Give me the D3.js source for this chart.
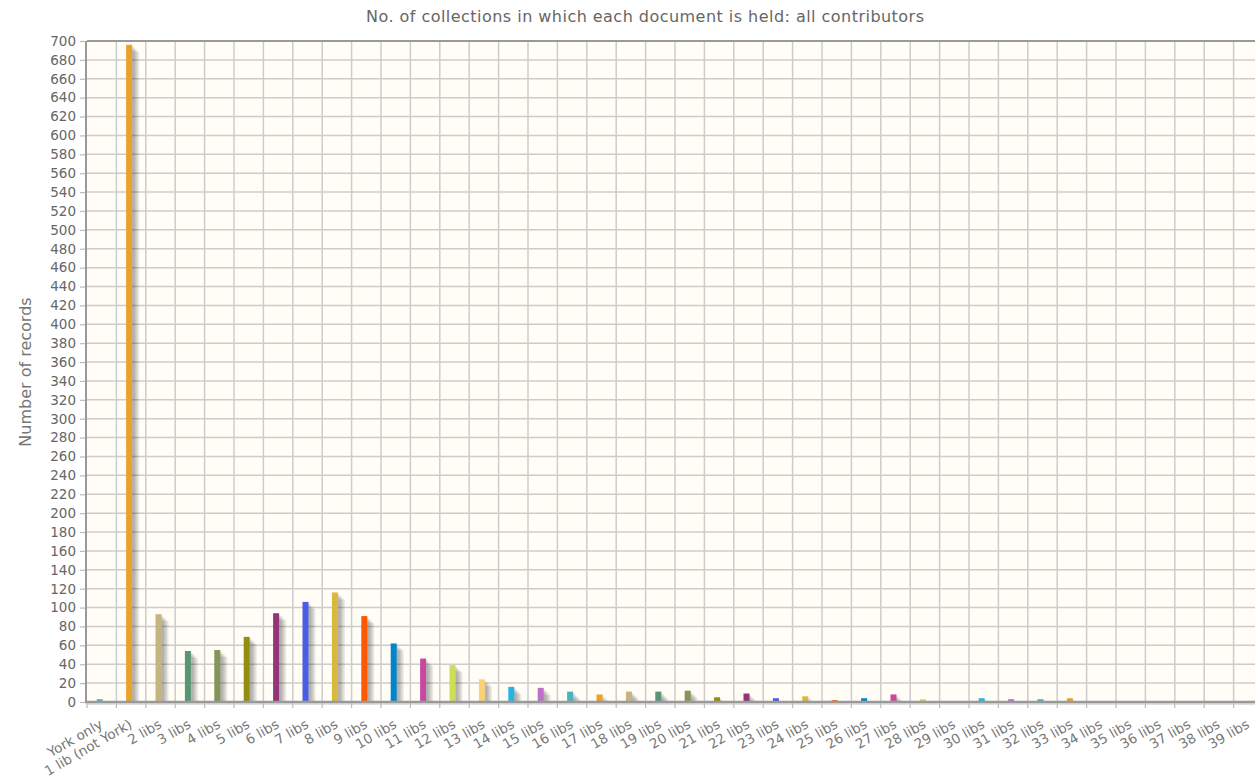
<!DOCTYPE html>
<html>
<head>
<meta charset="utf-8">
<script src="https://cdn.jsdelivr.net/npm/d3@7"></script>
<style>
  html, body { margin: 0; padding: 0; background: #ffffff; overflow: hidden; }
  svg { display: block; }
  text { font-family: "DejaVu Sans", Verdana, sans-serif; }
</style>
</head>
<body>
<svg id="chart" width="1255" height="779"></svg>
<script>
const titleText = "No. of collections in which each document is held: all contributors";
const yAxisLabel = "Number of records";
const categories = ["York only", "1 lib (not York)", "2 libs", "3 libs", "4 libs", "5 libs", "6 libs", "7 libs", "8 libs", "9 libs",
  "10 libs", "11 libs", "12 libs", "13 libs", "14 libs", "15 libs", "16 libs", "17 libs", "18 libs", "19 libs",
  "20 libs", "21 libs", "22 libs", "23 libs", "24 libs", "25 libs", "26 libs", "27 libs", "28 libs", "29 libs",
  "30 libs", "31 libs", "32 libs", "33 libs", "34 libs", "35 libs", "36 libs", "37 libs", "38 libs", "39 libs"];
const values = [3, 696, 93, 54, 55, 69, 94, 106, 116, 91,
  62, 46, 39, 24, 16, 15, 11, 8, 11, 11,
  12, 5, 9, 4, 6, 2, 4, 8, 3, 1,
  4, 3, 3, 4, 0, 0, 1, 0, 0, 1];
const palette = ["#4bb2c5", "#EAA228", "#c5b47f", "#579575", "#839557", "#958c12", "#953579", "#4b5de4",
  "#d8b83f", "#ff5800", "#0085cc", "#c747a3", "#cddf54", "#FBD178", "#26B4E3", "#bd70c7"];
const yTicks = d3.range(0, 701, 20);

(function () {
const data = categories.map((c, i) => ({ cat: c, value: values[i] }));

const svg = d3.select("#chart");
const pLeft = 87, pTop = 41, pBottom = 702;
const step = 29.4;
const pRight = pLeft + step * categories.length;

const x = d3.scaleBand().domain(categories).range([pLeft, pRight]).padding(0);
const y = d3.scaleLinear().domain([0, 700]).range([pBottom, pTop]);
const color = d3.scaleOrdinal().domain(categories).range(palette);

svg.append("defs").append("clipPath").attr("id", "plotclip")
  .append("rect").attr("x", pLeft).attr("y", pTop).attr("width", pRight - pLeft).attr("height", pBottom - pTop);

svg.append("rect").attr("x", pLeft).attr("y", pTop).attr("width", pRight - pLeft).attr("height", pBottom - pTop)
  .attr("fill", "#fffdf6");

const grid = svg.append("g");
grid.append("g").selectAll("line").data(yTicks.filter(t => t > 0 && t < 700)).join("line")
  .attr("x1", pLeft).attr("x2", pRight)
  .attr("y1", d => y(d)).attr("y2", d => y(d))
  .attr("stroke", "#cccccc").attr("stroke-width", 1.5);
grid.append("g").selectAll("line").data(categories.slice(1)).join("line")
  .attr("x1", d => x(d)).attr("x2", d => x(d))
  .attr("y1", pTop).attr("y2", pBottom)
  .attr("stroke", "#cccccc").attr("stroke-width", 1.5);

const barW = 6;
const barX = d => x(d.cat) + x.bandwidth() / 2 - 5;
const plot = svg.append("g").attr("clip-path", "url(#plotclip)");
for (let j = 1; j <= 5; j++) {
  const off = j * 1.414;
  plot.append("g").selectAll("rect").data(data.filter(d => d.value > 0)).join("rect")
    .attr("x", d => barX(d) + off)
    .attr("y", d => y(d.value) + off)
    .attr("width", barW)
    .attr("height", d => Math.max(0, y(0) - y(d.value)))
    .attr("fill", "#000").attr("fill-opacity", 0.08);
}
plot.append("g").selectAll("rect").data(data).join("rect")
  .attr("x", d => barX(d))
  .attr("y", d => y(d.value))
  .attr("width", barW)
  .attr("height", d => Math.max(0, y(0) - y(d.value)))
  .attr("fill", d => color(d.cat));

svg.append("line").attr("x1", pLeft).attr("x2", pRight).attr("y1", pTop).attr("y2", pTop)
  .attr("stroke", "#999999").attr("stroke-width", 2);
svg.append("line").attr("x1", pLeft - 1).attr("x2", pLeft - 1).attr("y1", pTop).attr("y2", pBottom)
  .attr("stroke", "#999999").attr("stroke-width", 2);
svg.append("line").attr("x1", pLeft).attr("x2", pRight).attr("y1", pBottom + 2).attr("y2", pBottom + 2)
  .attr("stroke", "#000").attr("stroke-opacity", 0.12).attr("stroke-width", 2);
svg.append("line").attr("x1", pLeft - 2).attr("x2", pRight).attr("y1", pBottom).attr("y2", pBottom)
  .attr("stroke", "#999999").attr("stroke-width", 2.5);

const yAxis = d3.axisLeft(y).tickValues(yTicks).tickSize(5).tickPadding(4);
const gy = svg.append("g").attr("transform", `translate(${pLeft - 2},0)`).call(yAxis);
gy.select(".domain").remove();
gy.selectAll(".tick line").attr("stroke", "#bbbbbb").attr("stroke-width", 1.2);
gy.selectAll(".tick text").attr("fill", "#666666").style("font-size", "13.5px")
  .style("font-family", "'DejaVu Sans', Verdana, sans-serif");

const xAxis = d3.axisBottom(x).tickSize(0).tickFormat(d => d);
const gx = svg.append("g").attr("transform", `translate(0,${pBottom})`).call(xAxis);
gx.select(".domain").remove();
gx.selectAll(".tick text")
  .attr("fill", "#777777")
  .style("font-size", "13.5px")
  .style("font-family", "'DejaVu Sans', Verdana, sans-serif")
  .attr("text-anchor", "end")
  .attr("dy", null).attr("y", 0)
  .attr("transform", "translate(2,25) rotate(-30)");
svg.append("g").selectAll("line").data(categories).join("line")
  .attr("x1", d => x(d)).attr("x2", d => x(d))
  .attr("y1", pBottom + 1).attr("y2", pBottom + 6)
  .attr("stroke", "#bbbbbb").attr("stroke-width", 1.2);

svg.append("text").attr("x", 645).attr("y", 22).attr("text-anchor", "middle")
  .attr("fill", "#666666").style("font-size", "16px")
  .attr("textLength", 558).attr("lengthAdjust", "spacing").text(titleText);

svg.append("text").attr("transform", "translate(31,372) rotate(-90)")
  .attr("text-anchor", "middle").attr("fill", "#777777").style("font-size", "16px").text(yAxisLabel);
})();
</script>
</body>
</html>
